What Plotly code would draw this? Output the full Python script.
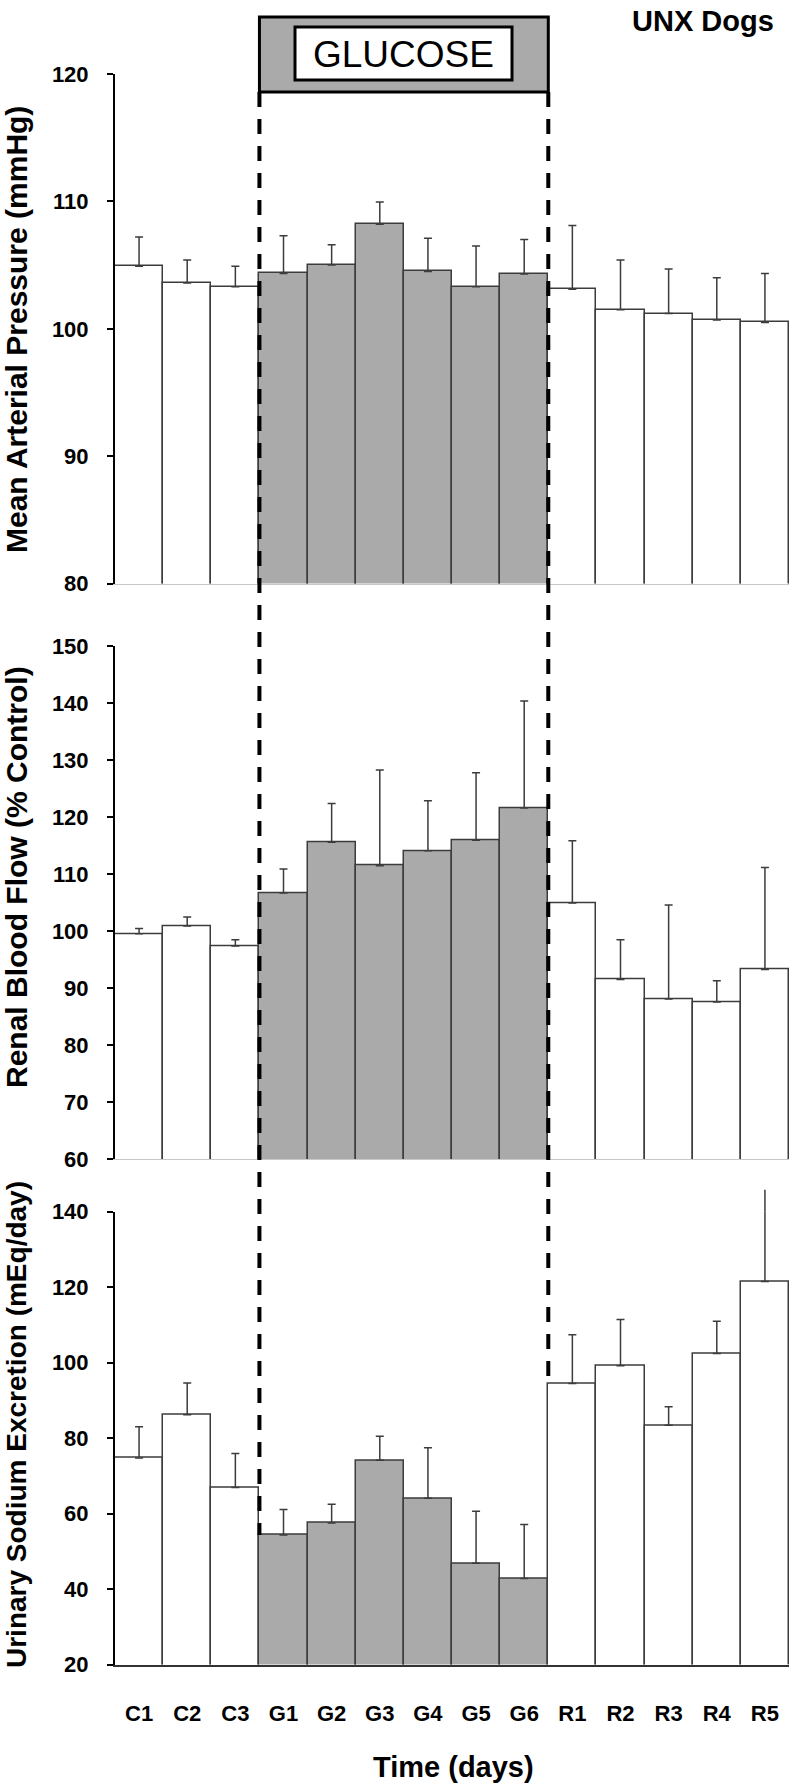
import plotly.graph_objects as go

# ---------------- data ----------------
days = ["C1", "C2", "C3", "G1", "G2", "G3", "G4", "G5", "G6", "R1", "R2", "R3", "R4", "R5"]

map_vals = [104.9, 103.6, 103.3, 104.35, 105.0, 108.2, 104.5, 103.3, 104.3, 103.1, 101.5, 101.2, 100.7, 100.5]
map_err = [2.3, 1.8, 1.6, 2.95, 1.6, 1.75, 2.6, 3.2, 2.7, 5.0, 3.9, 3.5, 3.3, 3.85]

rbf_vals = [99.55, 100.9, 97.4, 106.7, 115.6, 111.5, 114.1, 115.96, 121.6, 104.96, 91.55, 88.1, 87.6, 93.3]
rbf_err = [0.95, 1.6, 1.1, 4.2, 6.8, 16.8, 8.8, 11.85, 18.8, 10.9, 6.95, 16.5, 3.7, 17.9]

una_vals = [74.7, 86.2, 66.9, 54.3, 57.5, 74.1, 64.05, 46.8, 42.8, 94.5, 99.2, 83.4, 102.4, 121.5]
una_err = [8.3, 8.4, 9.0, 6.8, 5.0, 6.4, 13.4, 13.8, 14.3, 12.9, 12.2, 4.9, 8.6, 24.3]

y_titles = ["Mean Arterial Pressure (mmHg)", "Renal Blood Flow (% Control)",
            "Urinary Sodium Excretion (mEq/day)"]
y_ranges = [[80, 120], [60, 150], [20, 140]]
y_dticks = [10, 10, 20]

# ---------------- style ----------------
W, H = 793, 1785
FONT = "Liberation Sans, Arial, Helvetica, sans-serif"
GRAY = "#aaaaaa"
EDGE = "#3c3c3c"

def px_y(p):
    return 1 - p / H

x_dom = [115 / W, 789 / W]
y_doms = [[px_y(583.6), px_y(74)], [px_y(1159.3), px_y(646.2)], [px_y(1664.5), px_y(1211.7)]]
title_centers = [330, 877, 1425]
title_sizes = [30, 30, 28]

colors = [GRAY if d.startswith("G") else "white" for d in days]

def to_paper(panel, v):
    lo, hi = y_ranges[panel]
    d0, d1 = y_doms[panel]
    return d0 + (v - lo) / (hi - lo) * (d1 - d0)

fig = go.Figure()
series = [(map_vals, map_err), (rbf_vals, rbf_err), (una_vals, una_err)]
shapes = []
for i, (vals, errs) in enumerate(series):
    n = "" if i == 0 else str(i + 1)
    fig.add_trace(go.Bar(
        x=days, y=vals, xaxis="x" + n, yaxis="y" + n,
        marker=dict(color=colors, line=dict(color=EDGE, width=1.5)),
        error_y=dict(type="data", array=errs, arrayminus=[0] * len(errs), symmetric=False,
                     color=EDGE, thickness=1.5, width=4),
        cliponaxis=False, showlegend=False, hoverinfo="skip",
    ))
    # error bars that overshoot the axis top continue past it (as in the original)
    top = y_ranges[i][1]
    for k, (v, e) in enumerate(zip(vals, errs)):
        if v + e > top:
            shapes.append(dict(type="line", xref="x" + n, yref="paper", x0=k, x1=k,
                               y0=to_paper(i, top), y1=to_paper(i, v + e),
                               line=dict(color=EDGE, width=1.5), layer="above"))

layout = dict(
    width=W, height=H, margin=dict(l=0, r=0, t=0, b=0, pad=0, autoexpand=False),
    plot_bgcolor="white", paper_bgcolor="white",
    bargap=0, font=dict(family=FONT, color="black"),
)
for i in range(3):
    n = "" if i == 0 else str(i + 1)
    last = i == 2
    layout["xaxis" + n] = dict(
        domain=x_dom, anchor="y" + n, type="category", range=[-0.5, 13.5],
        showline=True, linecolor="#333333" if last else "#c8c8c8", linewidth=1.5 if last else 1,
        showgrid=False, zeroline=False, ticks="", automargin=False,
        showticklabels=last,
        tickfont=dict(family=FONT, size=22, color="black", weight="bold"),
        ticklabelstandoff=28,
        fixedrange=True,
    )
    layout["yaxis" + n] = dict(
        domain=y_doms[i], anchor="x" + n, range=y_ranges[i], dtick=y_dticks[i],
        showline=True, linecolor="black", linewidth=2, automargin=False,
        showgrid=False, zeroline=False, ticks="outside", ticklen=6, tickwidth=2, tickcolor="black",
        tickfont=dict(family=FONT, size=22, color="black", weight="bold"),
        ticklabelstandoff=14, fixedrange=True,
    )

annotations = []
for i in range(3):
    annotations.append(dict(
        text="<b>" + y_titles[i] + "</b>", xref="paper", yref="paper",
        x=16 / W, y=px_y(title_centers[i]), textangle=-90, showarrow=False,
        font=dict(family=FONT, size=title_sizes[i], color="black"), xanchor="center", yanchor="middle",
    ))
annotations.append(dict(
    text="<b>Time (days)</b>", xref="paper", yref="paper", x=453 / W, y=px_y(1767),
    xanchor="center", yanchor="middle", showarrow=False,
    font=dict(family=FONT, size=29, color="black"),
))
annotations.append(dict(
    text="<b>UNX Dogs</b>", xref="paper", yref="paper", x=776 / W, y=px_y(21),
    xanchor="right", yanchor="middle", showarrow=False,
    font=dict(family=FONT, size=29, color="black"),
))
annotations.append(dict(
    text="GLUCOSE", xref="paper", yref="paper", x=403.5 / W, y=px_y(54),
    xanchor="center", yanchor="middle", showarrow=False,
    font=dict(family=FONT, size=37, color="black"),
))

# dashed glucose-period lines: end at the top of the bar right of each boundary in the bottom panel
start_idx = days.index("G1")
end_idx = days.index("R1")
shapes += [
    dict(type="rect", xref="x", yref="paper", x0=start_idx - 0.5, x1=end_idx - 0.5,
         y0=px_y(92), y1=px_y(17), fillcolor=GRAY, line=dict(color="black", width=3), layer="above"),
    dict(type="rect", xref="paper", yref="paper", x0=295 / W, x1=512 / W,
         y0=px_y(80), y1=px_y(27), fillcolor="white", line=dict(color="black", width=3), layer="above"),
    dict(type="line", xref="x3", yref="paper", x0=start_idx - 0.5, x1=start_idx - 0.5,
         y0=px_y(92), y1=to_paper(2, una_vals[start_idx]),
         line=dict(color="black", width=4, dash="15px,12px"), layer="above"),
    dict(type="line", xref="x3", yref="paper", x0=end_idx - 0.5, x1=end_idx - 0.5,
         y0=px_y(92), y1=to_paper(2, una_vals[end_idx]),
         line=dict(color="black", width=4, dash="15px,12px"), layer="above"),
]
layout["annotations"] = annotations
layout["shapes"] = shapes
fig.update_layout(**layout)
fig.write_html("out.html", config={"displayModeBar": False},
               post_script="document.body.style.margin='0px';document.body.style.overflow='hidden';")
